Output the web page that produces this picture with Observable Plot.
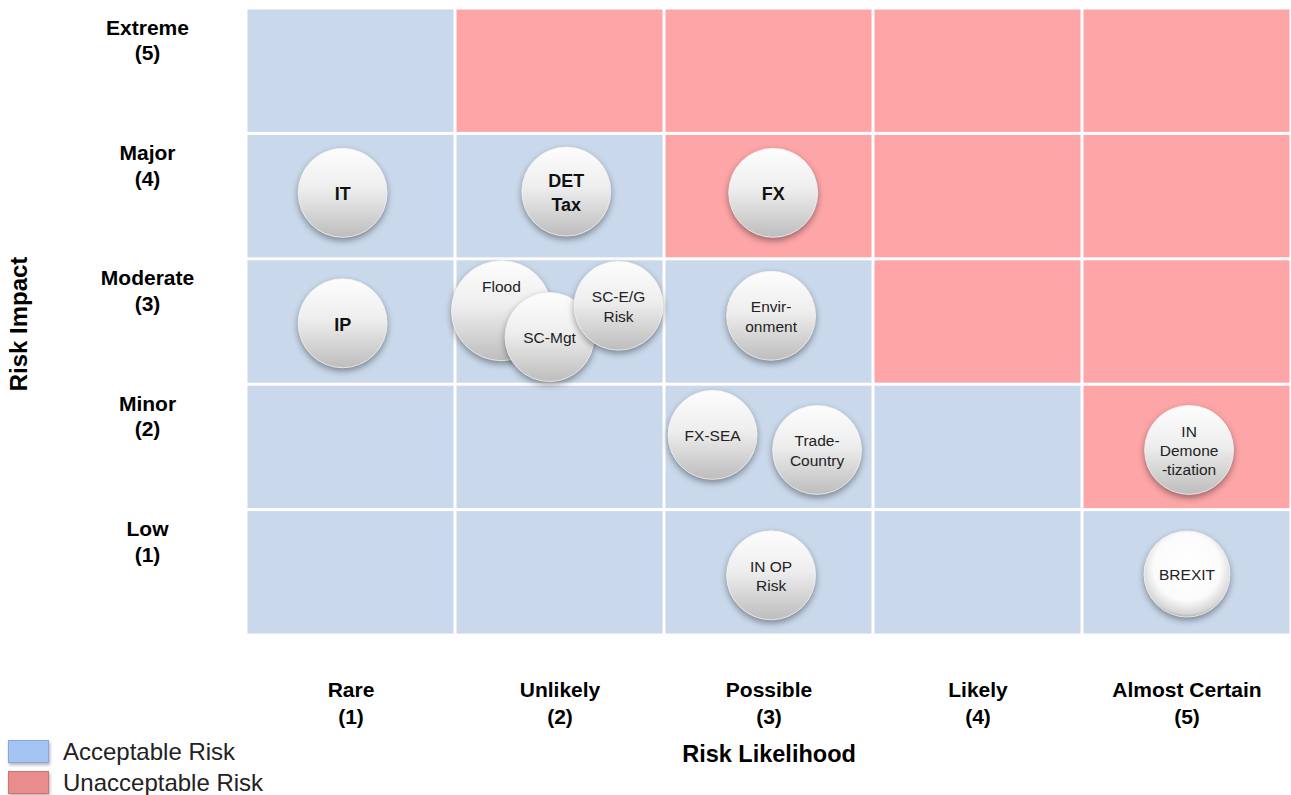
<!DOCTYPE html>
<html><head><meta charset="utf-8">
<script src="https://cdn.jsdelivr.net/npm/d3@7"></script>
<script src="https://cdn.jsdelivr.net/npm/@observablehq/plot@0.6"></script>
<style>
body{margin:0;background:#fff;font-family:"Liberation Sans",Arial,sans-serif;}
#wrap{position:relative;width:1291px;height:795px;overflow:hidden;}
#wrap svg g[aria-label="dot"] circle{filter:drop-shadow(0px 3px 3px rgba(0,0,0,0.38));}
.legend{position:absolute;left:8px;top:736px;font-size:24px;color:#222;line-height:31px;}
.legend div{display:flex;align-items:center;height:31px;}
.legend span.sw{display:inline-block;width:41px;height:23px;margin-right:14px;box-shadow:1px 2px 3px rgba(0,0,0,0.3);box-sizing:border-box;}
</style></head><body><div id="wrap"></div>
<script>
// ---- data ----
const likelihoodLevels = [1, 2, 3, 4, 5];
const likelihoodLabels = ["Rare", "Unlikely", "Possible", "Likely", "Almost Certain"];
const impactLevels = [1, 2, 3, 4, 5];
const impactLabels = ["Low", "Minor", "Moderate", "Major", "Extreme"];
const statusLabels = ["Acceptable Risk", "Unacceptable Risk"];
// rows: impact 1..5 ; columns: likelihood 1..5 ; 1 = unacceptable
const unacceptableMatrix = [
  [0, 0, 0, 0, 0],
  [0, 0, 0, 0, 1],
  [0, 0, 0, 1, 1],
  [0, 0, 1, 1, 1],
  [0, 1, 1, 1, 1]
];
const riskNames = ["IT", "DET\nTax", "FX", "IP", "Flood", "SC-Mgt", "SC-E/G\nRisk", "Envir-\nonment",
  "FX-SEA", "Trade-\nCountry", "IN\nDemone\n-tization", "IN OP\nRisk", "BREXIT"];
const riskLikelihood = [0.96, 2.03, 3.02, 0.96, 1.72, 1.95, 2.28, 3.01, 2.73, 3.23, 5.01, 3.01, 5.0];
const riskImpact = [4.03, 4.04, 4.03, 2.99, 3.09, 2.88, 3.13, 3.05, 2.1, 1.98, 1.98, 0.98, 0.99];
const boldRisks = ["IT", "DET\nTax", "FX", "IP"];

// ---- tables ----
const cells = [];
impactLevels.forEach((imp, i) => likelihoodLevels.forEach((lik, j) => {
  cells.push({likelihood: lik, impact: imp, status: statusLabels[unacceptableMatrix[i][j]]});
}));
const risks = riskNames.map((name, i) => ({name, likelihood: riskLikelihood[i], impact: riskImpact[i]}));
const isBold = d => boldRisks.includes(d.name);
const flood = risks.filter(d => d.name === "Flood");
const brexit = risks.filter(d => d.name === "BREXIT");
const others = risks.filter(d => d.name !== "Flood" && d.name !== "BREXIT");

const FONT = "Liberation Sans, Arial, Helvetica, sans-serif";

const chart = Plot.plot({
  width: 1291, height: 795,
  marginTop: 8, marginLeft: 246, marginRight: 0, marginBottom: 160,
  x: {domain: [0.5, 5.5], axis: null},
  y: {domain: [0.5, 5.5], axis: null},
  color: {domain: statusLabels, range: ["#c9d8ea", "#fda5a7"]},
  style: {fontFamily: FONT, background: "white", overflow: "visible"},
  marks: [
    Plot.rect(cells, {
      x1: d => d.likelihood - 0.5, x2: d => d.likelihood + 0.5,
      y1: d => d.impact - 0.5, y2: d => d.impact + 0.5,
      fill: "status", inset: 1.5
    }),
    Plot.axisX({
      ticks: likelihoodLevels, tickFormat: d => `${likelihoodLabels[d - 1]}\n(${d})`,
      tickSize: 0, tickPadding: 43, fontSize: 21, fontWeight: "bold", lineHeight: 1.27, label: null
    }),
    Plot.axisY({
      ticks: impactLevels, tickFormat: d => `${impactLabels[d - 1]}\n(${d})`,
      tickSize: 0, tickPadding: 0, dx: -99, dy: -32, textAnchor: "middle",
      fontSize: 21, fontWeight: "bold", lineHeight: 1.22, label: null
    }),
    Plot.text(["Risk Likelihood"], {text: d => d, frameAnchor: "bottom", lineAnchor: "middle", textAnchor: "middle", dy: 119, fontSize: 23.5, fontWeight: "bold", fill: "#000"}),
    Plot.text(["Risk Impact"], {text: d => d, frameAnchor: "left", lineAnchor: "middle", textAnchor: "middle", dx: -227, dy: 2, rotate: -90, fontSize: 24, fontWeight: "bold", fill: "#000"}),
    Plot.dot(flood, {x: "likelihood", y: "impact", r: 50, fill: "url(#bubble)", stroke: "#f4f4f4", strokeWidth: 0.8}),
    Plot.dot(others, {x: "likelihood", y: "impact", r: 44.5, fill: "url(#bubble)", stroke: "#f4f4f4", strokeWidth: 0.8}),
    Plot.dot(brexit, {x: "likelihood", y: "impact", r: 43, fill: "url(#bubbleBright)", stroke: "#f4f4f4", strokeWidth: 0.8}),
    Plot.text(flood, {x: "likelihood", y: "impact", text: "name", dy: -24, fontSize: 15.5, fill: "#222"}),
    Plot.text(risks.filter(d => !isBold(d) && d.name !== "Flood"), {
      x: "likelihood", y: "impact", text: "name", fontSize: 15.5, lineHeight: 1.25, fill: "#222"
    }),
    Plot.text(risks.filter(isBold), {
      x: "likelihood", y: "impact", text: "name", fontSize: 18, fontWeight: "bold", lineHeight: 1.3, fill: "#111"
    })
  ]
});

// gradients for bubbles
const defs = d3.select(chart).insert("defs", ":first-child");
const lg = defs.append("linearGradient").attr("id", "bubble").attr("x1", 0).attr("y1", 0).attr("x2", 0).attr("y2", 1);
[[0, "#fdfdfd"], [0.45, "#eeeeee"], [1, "#bdbdbd"]].forEach(([o, c]) => lg.append("stop").attr("offset", o).attr("stop-color", c));
const rg = defs.append("radialGradient").attr("id", "bubbleBright").attr("cx", 0.5).attr("cy", 0.42).attr("r", 0.6);
[[0, "#ffffff"], [0.65, "#fbfbfb"], [0.9, "#d6d6d6"], [1, "#9e9e9e"]].forEach(([o, c]) => rg.append("stop").attr("offset", o).attr("stop-color", c));

const wrap = document.getElementById("wrap");
wrap.appendChild(chart);

// legend
const legendColors = ["#a6c4f3", "#e88c8c"];
const legendBorders = ["#86a8dc", "#cf7474"];
const legend = document.createElement("div");
legend.className = "legend";
statusLabels.forEach((s, i) => {
  const row = document.createElement("div");
  const sw = document.createElement("span");
  sw.className = "sw";
  sw.style.background = legendColors[i];
  sw.style.border = "1px solid " + legendBorders[i];
  row.appendChild(sw);
  row.appendChild(document.createTextNode(s));
  legend.appendChild(row);
});
wrap.appendChild(legend);
</script>
</body></html>
